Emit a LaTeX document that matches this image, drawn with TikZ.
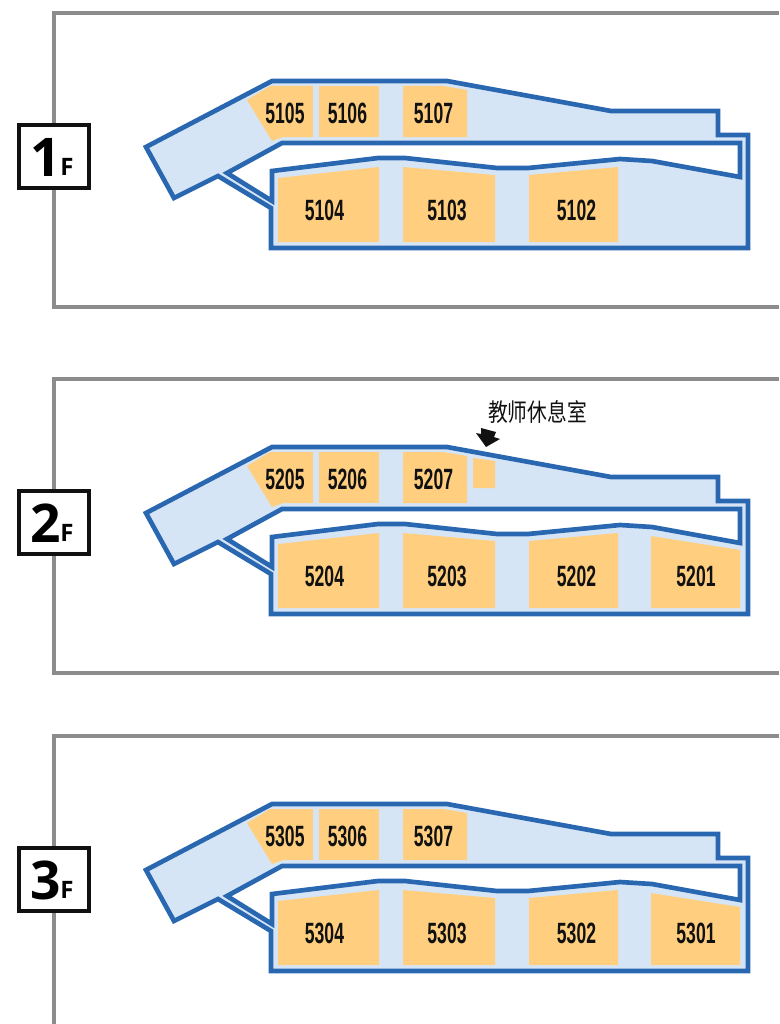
\documentclass[tikz,border=0pt]{standalone}
\usepackage{fontspec}
\setmainfont{Liberation Sans}
\newfontfamily\cjkfont{Noto Sans CJK SC}
\newfontfamily\signfont{Open Sans}
\usepackage{tikz}
\definecolor{wallblue}{HTML}{2A67B1}
\definecolor{floorblue}{HTML}{D5E5F6}
\definecolor{roomorange}{HTML}{FFCF7F}
\definecolor{framegray}{HTML}{8C8C8C}
\definecolor{inkblack}{HTML}{111111}
\tikzstyle{frame} = [draw=framegray, line width=3pt]
\tikzstyle{building} = [draw=wallblue, fill=floorblue, line width=3.5pt, even odd rule, line join=miter]
\tikzstyle{room} = [fill=roomorange]
\tikzstyle{roomno} = [text=inkblack, font=\fontsize{22}{22}\selectfont\bfseries, inner sep=0pt]
\tikzstyle{floorsign} = [draw=inkblack, fill=white, line width=3.5pt, minimum width=52.5pt, minimum height=47.25pt, inner sep=0pt]
\tikzstyle{floornum} = [text=black, font=\fontsize{40}{40}\selectfont\signfont\bfseries, inner sep=0pt, anchor=base]
\tikzstyle{floorletter} = [text=black, font=\fontsize{18}{18}\selectfont\signfont\bfseries, inner sep=0pt, anchor=base]
\newcommand{\roomlabel}[3]{\node [roomno] (r#3) at (#1,#2) {\scalebox{0.6}[1]{#3}};}
% one storey: outline, rooms common to all floors, sign
\newcommand{\floorplan}[1]{
      \path [building] (146,147) -- (272,81) -- (447,81) -- (611,111) -- (718,111) -- (718,135) -- (748,135) -- (748,248) -- (271,248) -- (271,208) -- (218,176) -- (174,198) -- cycle
        (227,173) -- (282,143) -- (740,143) -- (740,177) -- (652,161) -- (620,159) -- (528,168) -- (497,168) -- (405,158) -- (378,158) -- (272,171) -- (272,201) -- cycle;
      % rooms
      \fill [room] (247,100) -- (270,86) -- (313,86) -- (313,137) -- (283,137) -- (272,141) -- cycle;
      \fill [room] (319,86) rectangle (379,137);
      \fill [room] (403,86) -- (443,86) -- (467,90) -- (467,137) -- (403,137) -- cycle;
      \fill [room] (278,178) -- (379,167) -- (379,242) -- (278,242) -- cycle;
      \fill [room] (403,167) -- (495,175) -- (495,242) -- (403,242) -- cycle;
      \fill [room] (529,175) -- (618,167) -- (618,242) -- (529,242) -- cycle;
      % room numbers
      \roomlabel{285}{113.5}{5#105}
      \roomlabel{347.5}{113.5}{5#106}
      \roomlabel{433.5}{113.5}{5#107}
      \roomlabel{324.5}{210.5}{5#104}
      \roomlabel{447}{210.5}{5#103}
      \roomlabel{576.5}{210.5}{5#102}
      % floor sign
      \node [floorsign] (sign#1) at (54,156.5) {};
      \node [floornum] (num#1) at (46,176) {#1};
      \node [floorletter] (letter#1) at (67,175) {F};
}
\begin{document}
\begin{tikzpicture}[x=0.75pt, y=-0.75pt]
      \useasboundingbox (0,0) rectangle (779,1024);

      % first floor
      \begin{scope}
        \draw [frame] (779,13) -- (54,13) -- (54,307) -- (779,307);
        \floorplan{1}
      \end{scope}

      % second floor
      \begin{scope}[shift={(0,366)}]
        \draw [frame] (779,13) -- (54,13) -- (54,307) -- (779,307);
        \floorplan{2}
        \fill [room] (651,170) -- (740,184) -- (740,242) -- (651,242) -- cycle;
        \roomlabel{696}{210.5}{5201}
        \fill [room] (473,92) -- (495,95) -- (495,122) -- (473,122) -- cycle;
        \node [text=inkblack, font=\fontsize{18.5}{18.5}\selectfont\cjkfont, inner sep=0pt] (lounge) at (537.5,46.5) {\scalebox{0.8}[1]{教师休息室}};
        \fill [inkblack] (481,62) -- (496,66) -- (494,71) -- (500,73) -- (486,81) -- (476,67) -- (481,68) -- cycle;
      \end{scope}

      % third floor
      \begin{scope}[shift={(0,723)}]
        \draw [frame] (779,13) -- (54,13) -- (54,301);
        \floorplan{3}
        \fill [room] (651,170) -- (740,184) -- (740,242) -- (651,242) -- cycle;
        \roomlabel{696}{210.5}{5301}
      \end{scope}
\end{tikzpicture}
\end{document}
